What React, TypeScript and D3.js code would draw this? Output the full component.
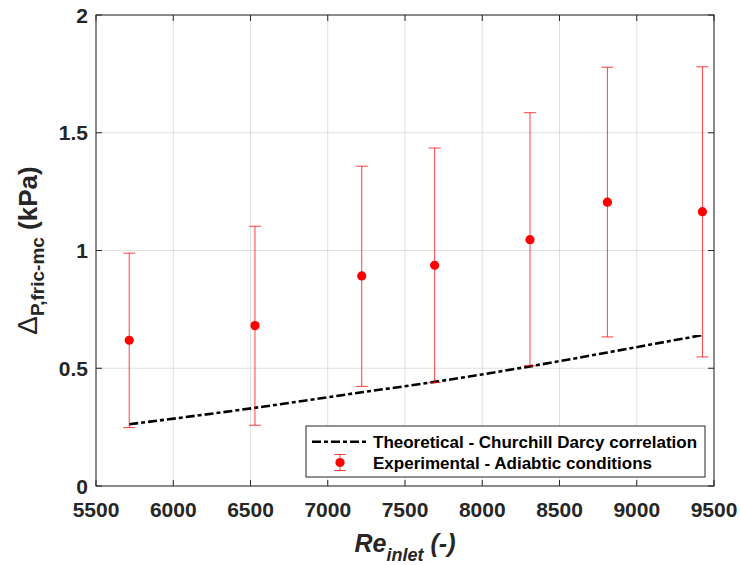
import React from "react";
import * as d3 from "d3";

const reynolds = [5715, 6529, 7220, 7692, 8309, 8810, 9425];
const experimental = [0.619, 0.681, 0.892, 0.937, 1.046, 1.205, 1.165];
const errorUpper = [0.989, 1.103, 1.358, 1.435, 1.585, 1.778, 1.780];
const errorLower = [0.248, 0.258, 0.423, 0.439, 0.510, 0.633, 0.548];
const theoretical = [0.262, 0.332, 0.398, 0.442, 0.508, 0.567, 0.641];
const xTicks = [5500, 6000, 6500, 7000, 7500, 8000, 8500, 9000, 9500];
const yTicks = [0, 0.5, 1, 1.5, 2];
const yTickLabels = ["0", "0.5", "1", "1.5", "2"];
const legendLabels = [
  "Theoretical - Churchill Darcy correlation",
  "Experimental - Adiabtic conditions",
];

const W = 740;
const H = 565;
const L = 96, R = 714, T = 15, B = 486;
const FONT = "'Liberation Sans', Arial, Helvetica, sans-serif";
const AX = "#262626";

export default function App() {
  const x = d3.scaleLinear().domain([5500, 9500]).range([L, R]);
  const y = d3.scaleLinear().domain([0, 2]).range([B, T]);
  const line = d3
    .line<number>()
    .x((_, i) => x(reynolds[i]))
    .y((d) => y(d))
    .curve(d3.curveMonotoneX);
  const tickLen = 6;
  const cap = 6;
  const dash = "9,3,4,3";

  return (
    <div style={{ position: "absolute", left: 0, top: 0 }}>
      <svg width={W} height={H} style={{ display: "block", background: "#fff" }}>
        <rect x={0} y={0} width={W} height={H} fill="#fff" />
        {/* grid */}
        {xTicks.map((t) => (
          <line key={"gx" + t} x1={x(t)} x2={x(t)} y1={T} y2={B} stroke="#000" strokeOpacity={0.12} strokeWidth={1} />
        ))}
        {yTicks.map((t) => (
          <line key={"gy" + t} x1={L} x2={R} y1={y(t)} y2={y(t)} stroke="#000" strokeOpacity={0.12} strokeWidth={1} />
        ))}
        {/* ticks */}
        {xTicks.map((t) => (
          <g key={"tx" + t}>
            <line x1={x(t)} x2={x(t)} y1={B} y2={B - tickLen} stroke={AX} strokeWidth={1} />
            <line x1={x(t)} x2={x(t)} y1={T} y2={T + tickLen} stroke={AX} strokeWidth={1} />
          </g>
        ))}
        {yTicks.map((t) => (
          <g key={"ty" + t}>
            <line x1={L} x2={L + tickLen} y1={y(t)} y2={y(t)} stroke={AX} strokeWidth={1} />
            <line x1={R} x2={R - tickLen} y1={y(t)} y2={y(t)} stroke={AX} strokeWidth={1} />
          </g>
        ))}
        {/* theoretical line */}
        <path d={line(theoretical) || ""} fill="none" stroke="#000" strokeWidth={2.6} strokeDasharray={dash} />
        {/* error bars */}
        {reynolds.map((r, i) => (
          <g key={"e" + i} stroke="#ff0000" strokeOpacity={0.75} strokeWidth={1}>
            <line x1={x(r)} x2={x(r)} y1={y(errorLower[i])} y2={y(errorUpper[i])} />
            <line x1={x(r) - cap} x2={x(r) + cap} y1={y(errorLower[i])} y2={y(errorLower[i])} />
            <line x1={x(r) - cap} x2={x(r) + cap} y1={y(errorUpper[i])} y2={y(errorUpper[i])} />
          </g>
        ))}
        {reynolds.map((r, i) => (
          <circle key={"p" + i} cx={x(r)} cy={y(experimental[i])} r={4.6} fill="#ff0000" />
        ))}
        {/* box */}
        <rect x={L} y={T} width={R - L} height={B - T} fill="none" stroke={AX} strokeWidth={1} />
        {/* tick labels */}
        {xTicks.map((t) => (
          <text key={"lx" + t} x={x(t)} y={517} textAnchor="middle" fontFamily={FONT} fontWeight="bold" fontSize={21} fill={AX}>
            {t}
          </text>
        ))}
        {yTicks.map((t, i) => (
          <text key={"ly" + t} x={88} y={y(t) + 7.5} textAnchor="end" fontFamily={FONT} fontWeight="bold" fontSize={21} fill={AX}>
            {yTickLabels[i]}
          </text>
        ))}
        {/* x label */}
        <text x={(L + R) / 2} y={552} textAnchor="middle" fontFamily={FONT} fontWeight="bold" fontStyle="italic" fontSize={25} fill={AX}>
          <tspan>Re</tspan>
          <tspan fontSize={18} dy={9}>inlet</tspan>
          <tspan dy={-9}> (-)</tspan>
        </text>
        {/* y label */}
        <text transform={`translate(37, ${(T + B) / 2}) rotate(-90)`} textAnchor="middle" fontFamily={FONT} fontWeight="bold" fontSize={26} fill={AX}>
          <tspan fontWeight="normal" fontSize={28}>Δ</tspan>
          <tspan fontSize={19} dy={7}>P,fric-mc</tspan>
          <tspan dy={-7}> (kPa)</tspan>
        </text>
        {/* legend */}
        <rect x={306} y={426} width={399} height={51} fill="#fff" stroke={AX} strokeWidth={1} />
        <line x1={312} x2={366} y1={441.7} y2={441.7} stroke="#000" strokeWidth={2.6} strokeDasharray={dash} />
        <g stroke="#ff0000" strokeOpacity={0.75} strokeWidth={1}>
          <line x1={340} x2={340} y1={454.5} y2={470.5} />
          <line x1={334} x2={346} y1={454.5} y2={454.5} />
          <line x1={334} x2={346} y1={470.5} y2={470.5} />
        </g>
        <circle cx={340} cy={462.5} r={4.6} fill="#ff0000" />
        {legendLabels.map((lab, i) => (
          <text key={lab} x={373} y={441.7 + i * 21 + 6} fontFamily={FONT} fontWeight="bold" fontSize={17} fill="#000">
            {lab}
          </text>
        ))}
      </svg>
    </div>
  );
}
